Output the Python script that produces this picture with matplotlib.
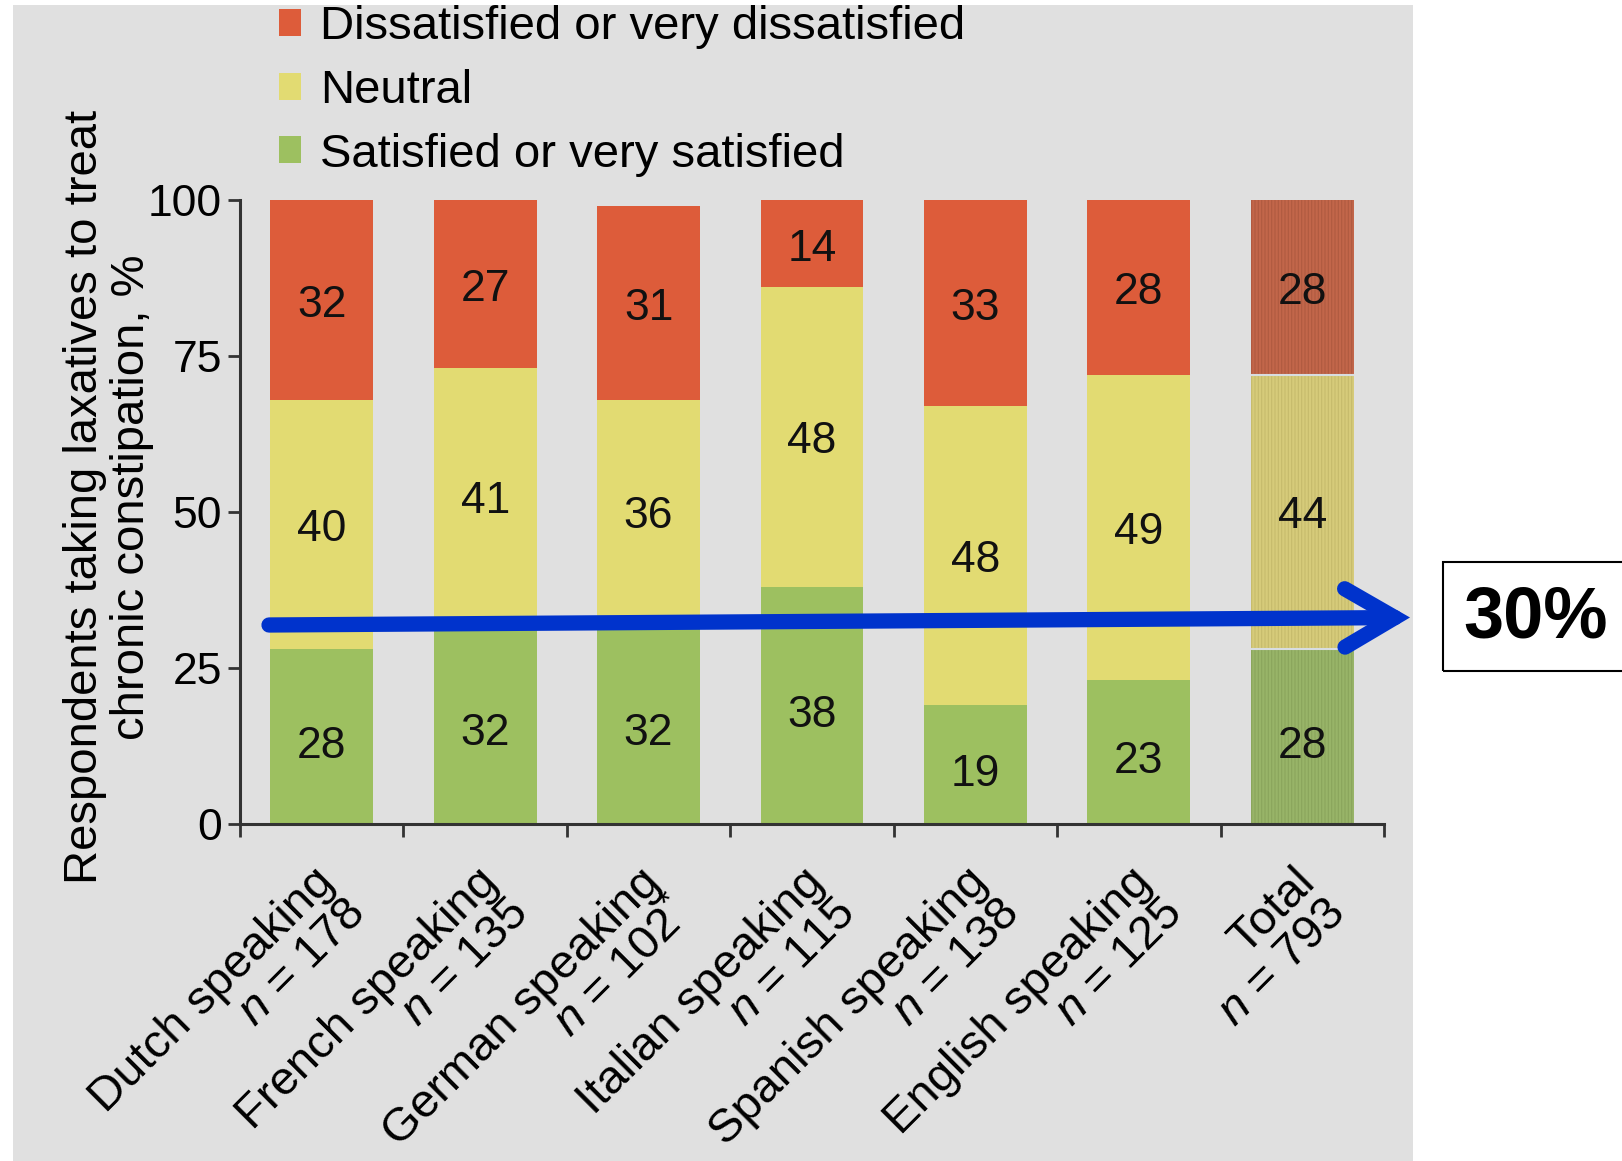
import matplotlib
matplotlib.use('Agg')
import matplotlib.pyplot as plt
import matplotlib.transforms as mtransforms
from matplotlib.patches import Rectangle, FancyArrowPatch
import numpy as np

plt.rcParams['font.family'] = ['Liberation Sans', 'DejaVu Sans']
plt.rcParams['mathtext.fontset'] = 'custom'
plt.rcParams['mathtext.it'] = 'Liberation Sans:italic'
plt.rcParams['mathtext.rm'] = 'Liberation Sans'
plt.rcParams['hatch.linewidth'] = 0.8

# data
groups = ['Dutch speaking', 'French speaking', 'German speaking', 'Italian speaking',
          'Spanish speaking', 'English speaking', 'Total']
n_values = ['178', '135', '102$^{*}$', '115', '138', '125', '793']
satisfied = [28, 32, 32, 38, 19, 23, 28]
neutral = [40, 41, 36, 48, 48, 49, 44]
dissatisfied = [32, 27, 31, 14, 33, 28, 28]

RED, YELLOW, GREEN = '#dd5c3a', '#e2db72', '#9dc060'
RED_T, YELLOW_T, GREEN_T = '#c2664a', '#d6cb7a', '#98b468'
INK = '#333333'

W, H = 1622, 1161
fig = plt.figure(figsize=(W / 100, H / 100), dpi=100)
fig.patch.set_facecolor('white')
# grey panel of the original figure
fig.add_artist(Rectangle((13 / W, 0), 1400 / W, 1 - 5 / H, transform=fig.transFigure,
                         facecolor='#e0e0e0', edgecolor='none', zorder=-10))

ax = fig.add_axes([240 / W, 1 - 824 / H, 1144 / W, 624 / H])
ax.set_facecolor('none')

x = np.arange(len(groups))
sat = np.array(satisfied)
neu = np.array(neutral)
dis = np.array(dissatisfied)
w = 0.63

# country bars
b1 = ax.bar(x[:6], sat[:6], w, color=GREEN, label='Satisfied or very satisfied')
b2 = ax.bar(x[:6], neu[:6], w, bottom=sat[:6], color=YELLOW, label='Neutral')
b3 = ax.bar(x[:6], dis[:6], w, bottom=sat[:6] + neu[:6], color=RED,
            label='Dissatisfied or very dissatisfied')
# total bar, hatched
t1 = ax.bar(x[6:], sat[6:], w, color=GREEN_T, edgecolor='#8aa55c', hatch='|||||', linewidth=0)
t2 = ax.bar(x[6:], neu[6:], w, bottom=sat[6:], color=YELLOW_T, edgecolor='#c6bb6c',
            hatch='|||||', linewidth=0)
t3 = ax.bar(x[6:], dis[6:], w, bottom=sat[6:] + neu[6:], color=RED_T, edgecolor='#b05a40',
            hatch='|||||', linewidth=0)
ax.hlines([sat[6], sat[6] + neu[6]], x[6] - w / 2, x[6] + w / 2, color='#d8dde0', lw=1.5)

# value labels, nudged a little below the segment centre like the original
for c, dy in [(b1, -7), (b2, -3.5), (b3, -4), (t1, -7), (t2, -3.5), (t3, -4)]:
    for t in ax.bar_label(c, label_type='center', fontsize=32, color='#111111'):
        t.xyann = (0, dy)

ax.set_xlim(-0.5, 6.5)
ax.set_ylim(0, 100)
for s in ['top', 'right']:
    ax.spines[s].set_visible(False)
for s in ['left', 'bottom']:
    ax.spines[s].set_color(INK)
    ax.spines[s].set_linewidth(2.2)

ax.set_yticks([0, 25, 50, 75, 100])
ax.tick_params(axis='y', length=9, width=2, color=INK, labelsize=32, pad=4)
ax.set_xticks(x, [f'{g}\n$n$ = {n}' for g, n in zip(groups, n_values)])
ax.set_xticks(np.arange(-0.5, 7, 1), minor=True)
ax.tick_params(axis='x', which='major', length=0, pad=26)
ax.tick_params(axis='x', which='minor', length=9, width=2, color=INK)
offset = mtransforms.ScaledTranslation(-0.10, 0, fig.dpi_scale_trans)
for lab in ax.get_xticklabels():
    lab.set_rotation(45)
    lab.set_ha('right')
    lab.set_va('top')
    lab.set_rotation_mode('anchor')
    lab.set_fontsize(34)
    lab.set_linespacing(1.0)
    lab.set_multialignment('right')
    lab.set_transform(lab.get_transform() + offset)

ax.set_ylabel('Respondents taking laxatives to treat\nchronic constipation, %',
              fontsize=34, linespacing=1.1)
ax.yaxis.set_label_coords(-0.075, 0.524)

ax.legend(handles=[b3, b2, b1], loc='upper left', bbox_to_anchor=(279 / W, 1 - 5 / H),
          bbox_transform=fig.transFigure, frameon=False, fontsize=34,
          handlelength=0.47, handleheight=0.5, handletextpad=0.4,
          labelspacing=0.42, borderpad=0, borderaxespad=0)

# blue arrow and 30% box
arrow = FancyArrowPatch((269 / W, 1 - 625 / H), (1410 / W, 1 - 617.5 / H),
                        transform=fig.transFigure,
                        arrowstyle='->, head_length=0.36, head_width=0.21',
                        mutation_scale=100, color='#0033cc', lw=11,
                        shrinkA=0, shrinkB=0, capstyle='round', joinstyle='miter')
fig.add_artist(arrow)
fig.add_artist(Rectangle((1443 / W, 490 / H), 200 / W, 109 / H, transform=fig.transFigure,
                         fill=False, edgecolor='black', lw=1.5))
fig.text(1536 / W, 542 / H, '30%', ha='center', va='center', fontsize=52, fontweight='bold')

fig.savefig('out.png', dpi=100)
